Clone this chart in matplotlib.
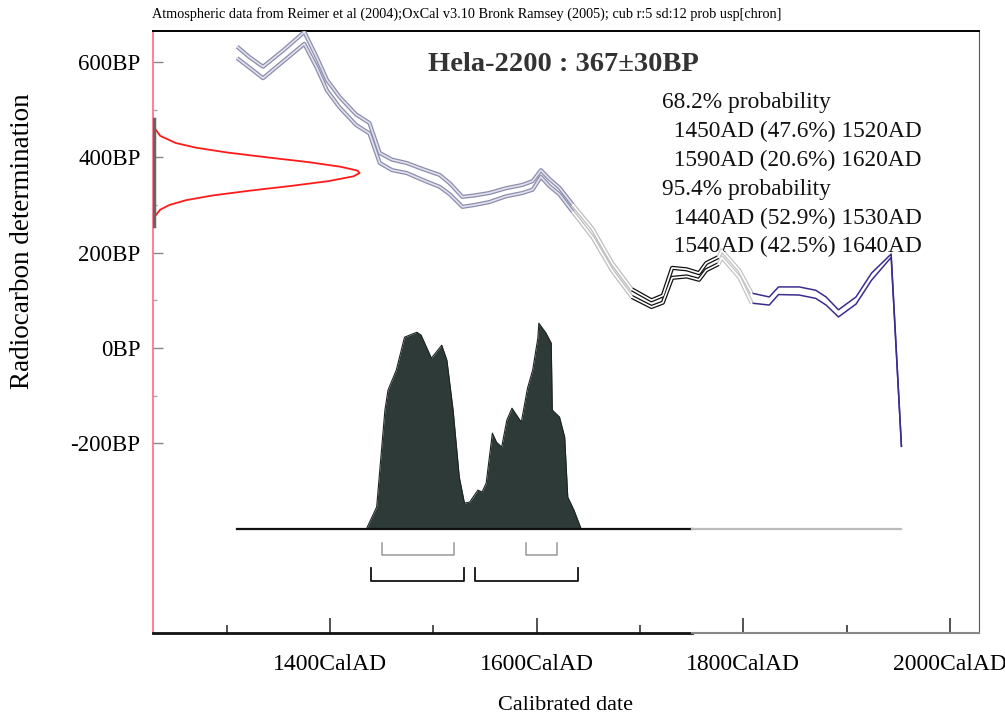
import matplotlib
matplotlib.use("Agg")
import matplotlib.pyplot as plt
import numpy as np

plt.rcParams["font.family"] = ["Liberation Serif", "DejaVu Serif"]

# calibration curve (IntCal04), mean +/- 1 sigma
cal_year = [1310, 1322, 1335, 1355, 1375, 1387, 1397, 1409, 1425, 1438,
            1448, 1460, 1474, 1490, 1506, 1516, 1528, 1540, 1554, 1570,
            1586, 1596, 1604, 1612, 1622, 1635, 1654, 1673, 1692, 1711,
            1722, 1731, 1745, 1757, 1764, 1776, 1779, 1796, 1808, 1825,
            1834, 1854, 1870, 1880, 1892, 1909, 1924, 1943, 1953]
cal_upper = [632, 610, 590, 625, 663, 610, 562, 527, 490, 472,
             409, 395, 388, 375, 363, 345, 317, 320, 325, 335,
             342, 350, 373, 355, 336, 300, 250, 178, 123, 100,
             110, 168, 165, 157, 178, 191, 205, 163, 115, 107,
             128, 128, 121, 107, 80, 107, 157, 197, -208]
cal_lower = [608, 588, 566, 602, 638, 588, 540, 505, 468, 450,
             388, 373, 367, 352, 338, 322, 296, 300, 306, 318,
             325, 332, 359, 340, 322, 285, 232, 162, 107, 86,
             95, 147, 150, 143, 163, 176, 190, 148, 94, 90,
             112, 111, 104, 90, 65, 92, 142, 190, -208]
# year where curve colour changes
seg_breaks = [1310, 1635, 1692, 1776, 1808, 1953]

c14_bp = [480, 460, 445, 430, 420, 410, 400, 390, 380, 372, 367,
          360, 350, 340, 330, 320, 310, 300, 290, 275, 255]
c14_dens = [0.0, 0.01, 0.035, 0.11, 0.21, 0.36, 0.55, 0.75, 0.91, 0.99, 1.0,
            0.97, 0.85, 0.67, 0.47, 0.29, 0.16, 0.08, 0.035, 0.007, 0.0]

# calibrated probability distribution (relative)
prob_year = [1435, 1445, 1453, 1456, 1464, 1472, 1484, 1488, 1498, 1508,
             1513, 1519, 1525, 1530, 1535, 1543, 1547, 1551, 1557, 1561,
             1566, 1571, 1576, 1585, 1591, 1596, 1601, 1602, 1609, 1614,
             1615, 1622, 1627, 1630, 1636, 1643]
prob_rel = [0.0, 0.107, 0.578, 0.675, 0.772, 0.932, 0.956, 0.942, 0.830, 0.893,
            0.820, 0.578, 0.252, 0.126, 0.131, 0.189, 0.180, 0.223, 0.466, 0.422,
            0.398, 0.529, 0.587, 0.519, 0.684, 0.772, 0.927, 1.0, 0.951, 0.903,
            0.578, 0.544, 0.447, 0.155, 0.092, 0.0]

range_68 = [(1450, 1520), (1590, 1620)]
range_95 = [(1440, 1530), (1540, 1640)]
range_text = ["68.2% probability",
              "  1450AD (47.6%) 1520AD",
              "  1590AD (20.6%) 1620AD",
              "95.4% probability",
              "  1440AD (52.9%) 1530AD",
              "  1540AD (42.5%) 1640AD"]

xmajor = [1400, 1600, 1800, 2000]
xminor = [1300, 1500, 1700, 1900]
ymajor = [-200, 0, 200, 400, 600]
yminor = [-100, 100, 300, 500]

XMIN, XMAX = 1228.5, 2028
YMIN, YMAX = -598, 665
BASE = -380      # baseline of the calibrated distribution
PHEIGHT = 432    # height of its tallest peak in BP units
GWIDTH = 200     # width of the gaussian peak in years

fig = plt.figure(figsize=(10.05, 7.17), dpi=100)
ax = fig.add_axes([0.1522, 0.1172, 0.8219, 0.8396])
ax.set_xlim(XMIN, XMAX)
ax.set_ylim(YMIN, YMAX)

# calibration curve, segment by segment
cy = np.array(cal_year)
up = np.array(cal_upper)
lo = np.array(cal_lower)
seg_styles = [("#8c8cae", "#e2e2ec", 3.0),
              ("#bdbdbd", "#ffffff", 3.0),
              ("#111111", "#ffffff", 3.0),
              ("#c4c4c4", "#ffffff", 3.0),
              ("#3b2d8f", None, 1.1)]
for (a, b), (edge, inner, lw) in zip(zip(seg_breaks[:-1], seg_breaks[1:]), seg_styles):
    m = (cy >= a) & (cy <= b)
    for line in (up, lo):
        ax.plot(cy[m], line[m], color=edge, lw=lw, solid_capstyle="butt", zorder=3)
        if inner:
            ax.plot(cy[m], line[m], color=inner, lw=lw * 0.4, zorder=3.1)

# radiocarbon date on the y axis
ax.plot(XMIN + GWIDTH * np.array(c14_dens), c14_bp, color="#ff1a1a", lw=1.3, zorder=4)
ax.plot([XMIN + 1, XMIN + 1], [c14_bp[-1], c14_bp[0]], color="#666666", lw=2.5, zorder=4)

# calibrated distribution
py = BASE + PHEIGHT * np.array(prob_rel)
ax.fill_between(prob_year, BASE, py, color="#2d3a37", lw=0, zorder=2)
ax.plot(prob_year, py, color="#1b2422", lw=0.8, zorder=2)
ax.plot([cal_year[0], 1750], [BASE, BASE], color="#111111", lw=1.6, zorder=2.5)
ax.plot([1750, cal_year[-1]], [BASE, BASE], color="#bbbbbb", lw=1.6, zorder=2.5)

# range brackets
for (a, b) in range_68:
    ax.plot([a, a, b, b], [-409, -435, -435, -409], color="#999999", lw=1.1, zorder=2)
for (a, b) in range_95:
    ax.plot([a, a, b, b], [-462, -489, -489, -462], color="#111111", lw=1.3, zorder=2)

# texts
ax.text(1626, 594, "Hela-2200 : 367\u00b130BP", fontsize=20.5, fontweight="bold",
        color="#333333", ha="center", va="center")
for i, s in enumerate(range_text):
    ax.text(1721, 514 - i * 60.4, s, fontsize=16.8, ha="left", va="center",
            color="#111111")
fig.text(0.1512, 0.981, "Atmospheric data from Reimer et al (2004);OxCal v3.10 Bronk Ramsey "
         "(2005); cub r:5 sd:12 prob usp[chron]", fontsize=10.3, ha="left", va="center")

# axes
ax.set_xticks(xmajor)
ax.set_xticklabels([f"{y}CalAD" for y in xmajor], fontsize=17)
ax.set_xticks(xminor, minor=True)
ax.set_yticks(ymajor)
ax.set_yticklabels([f"{v}BP" for v in ymajor], fontsize=16.5)
ax.set_yticks(yminor, minor=True)
ax.tick_params(axis="x", which="major", direction="in", length=11, width=1.2,
               color="#333333", pad=15)
ax.tick_params(axis="x", which="minor", direction="in", length=6, width=1.2,
               color="#333333")
ax.tick_params(axis="y", which="major", direction="in", length=7, width=1,
               color="#888888", pad=9)
ax.tick_params(axis="y", which="minor", direction="in", length=3, width=1,
               color="#aaaaaa")
ax.spines["left"].set_color("#ff6a80")
ax.spines["left"].set_linewidth(1.2)
ax.spines["bottom"].set_visible(False)
ax.plot([XMIN, 1750], [YMIN, YMIN], color="#111111", lw=2, clip_on=False, zorder=5)
ax.plot([1750, XMAX], [YMIN, YMIN], color="#888888", lw=1.5, clip_on=False, zorder=5)
ax.spines["top"].set_linewidth(1.4)
ax.spines["right"].set_color("#555555")

fig.text(0.5622, 0.016, "Calibrated date", fontsize=16, ha="center", va="center")
fig.text(0.022, 0.664, "Radiocarbon determination", fontsize=19.5, rotation=90,
         ha="center", va="center")

fig.savefig("out.png", dpi=100)
